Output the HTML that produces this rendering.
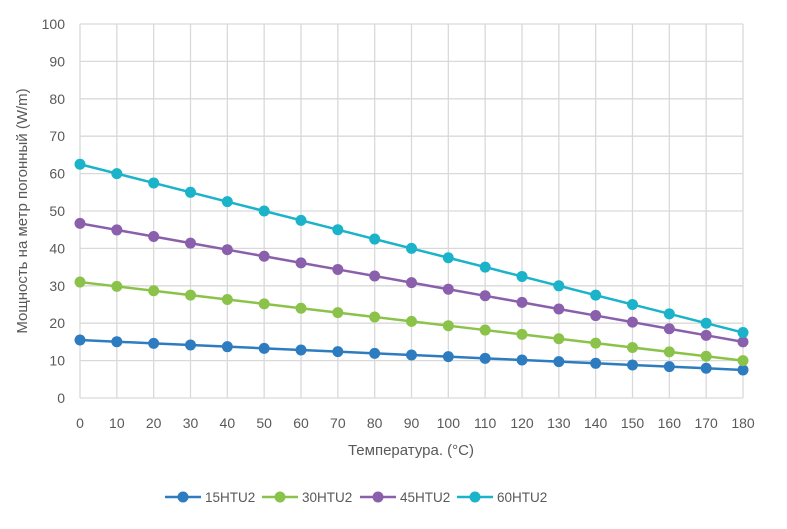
<!DOCTYPE html>
<html><head><meta charset="utf-8"><style>
body{margin:0;background:#fff;}
svg{display:block;font-family:"Liberation Sans",sans-serif;}
</style></head><body>
<svg id="c" width="787" height="529" xmlns="http://www.w3.org/2000/svg"></svg>
<script>
const s=document.getElementById('c');
let h='';
const X=v=>80+v*(663/180), Y=v=>398-v*3.74;
for(let i=0;i<=18;i++){h+=`<line x1="${X(i*10)}" y1="${Y(100)}" x2="${X(i*10)}" y2="${Y(0)}" stroke="#d9d9d9" stroke-width="1.3"/>`;
h+=`<text x="${X(i*10)}" y="428" font-size="14" fill="#595959" text-anchor="middle">${i*10}</text>`;}
for(let j=0;j<=10;j++){h+=`<line x1="${X(0)}" y1="${Y(j*10)}" x2="${X(180)}" y2="${Y(j*10)}" stroke="#d9d9d9" stroke-width="1.3"/>`;
h+=`<text x="65" y="${Y(j*10)+5}" font-size="14" fill="#595959" text-anchor="end">${j*10}</text>`;}
const ser=[[15.5,7.5,'#2e7cc0'],[31,10,'#8bc34a'],[46.7,15,'#8a5fab'],[62.5,17.5,'#1ab3c9']];
ser.forEach(([a,b,c])=>{let p=[],d='';for(let i=0;i<=18;i++){const v=a+(b-a)*i/18;p.push(X(i*10)+','+Y(v));d+=`<circle cx="${X(i*10)}" cy="${Y(v)}" r="5.5" fill="${c}"/>`;}
h+=`<polyline points="${p.join(' ')}" fill="none" stroke="${c}" stroke-width="2.5"/>`+d;});
h+=`<text x="411" y="455" font-size="15" fill="#595959" text-anchor="middle">Температура. (°C)</text>`;
h+=`<text transform="translate(27,211) rotate(-90)" font-size="15" fill="#595959" text-anchor="middle">Мощность на метр погонный (W/m)</text>`;
const L=[[165,'15HTU2'],[262,'30HTU2'],[360,'45HTU2'],[457,'60HTU2']];
L.forEach(([x,t],k)=>{const c=ser[k][2];h+=`<line x1="${x}" y1="497" x2="${x+36}" y2="497" stroke="${c}" stroke-width="2.5"/><circle cx="${x+18}" cy="497" r="5.5" fill="${c}"/><text x="${x+40}" y="502" font-size="13.5" fill="#595959">${t}</text>`;});
s.innerHTML=h;
</script>
</body></html>
